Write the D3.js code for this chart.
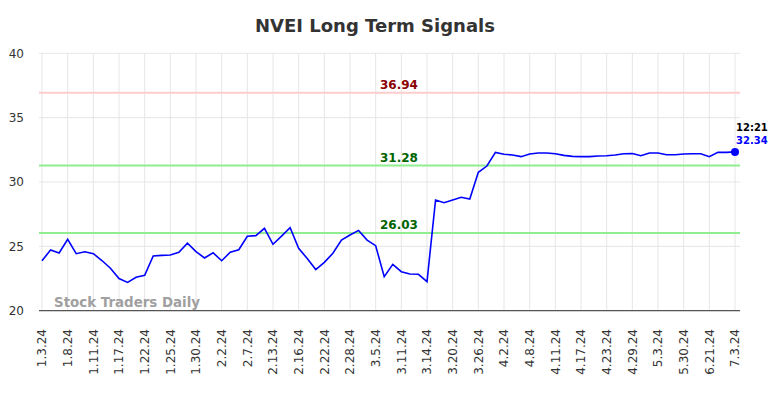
<!DOCTYPE html>
<html>
<head>
<meta charset="utf-8">
<script src="https://cdn.jsdelivr.net/npm/d3@7"></script>
<style>
  body { margin: 0; background: #fff; }
  svg { display: block; font-family: "DejaVu Sans", sans-serif; }
</style>
</head>
<body>
<div id="chart"></div>
<script>
const title = 'NVEI Long Term Signals';

// x tick labels, one every 3 points
const tickLabels = ['1.3.24', '1.8.24', '1.11.24', '1.17.24', '1.22.24', '1.25.24', '1.30.24',
  '2.2.24', '2.7.24', '2.13.24', '2.16.24', '2.22.24', '2.28.24', '3.5.24', '3.11.24',
  '3.14.24', '3.20.24', '3.26.24', '4.2.24', '4.8.24', '4.11.24', '4.17.24', '4.23.24',
  '4.29.24', '5.3.24', '5.30.24', '6.21.24', '7.3.24'];
const tickStep = 3;

const prices = [23.88, 24.72, 24.48, 25.55, 24.43, 24.58, 24.43, 23.9, 23.3, 22.5,
  22.2, 22.6, 22.75, 24.25, 24.3, 24.33, 24.54, 25.24, 24.59, 24.1,
  24.5, 23.88, 24.54, 24.74, 25.78, 25.83, 26.4, 25.16, 25.8, 26.45,
  24.85, 24.05, 23.2, 23.76, 24.46, 25.49, 25.88, 26.24, 25.49, 25.05,
  22.64, 23.6, 23.03, 22.85, 22.83, 22.26, 28.6, 28.39, 28.6, 28.81,
  28.68, 30.75, 31.24, 32.3, 32.15, 32.1, 31.97, 32.18, 32.25, 32.25,
  32.2, 32.07, 31.99, 31.97, 31.97, 32.02, 32.04, 32.1, 32.2, 32.22,
  32.04, 32.25, 32.25, 32.12, 32.12, 32.17, 32.2, 32.2, 31.97, 32.3,
  32.3, 32.34];

const yTicks = [20, 25, 30, 35, 40];
const levels = [
  { value: 36.94, line: '#ffcccc', text: '#8b0000' },
  { value: 31.28, line: '#90ee90', text: '#006400' },
  { value: 26.03, line: '#90ee90', text: '#006400' }
];
const lastTime = '12:21';

const width = 784, height = 398;
const plot = { left: 39, right: 740, top: 53.3, bottom: 310.7 };

const svg = d3.select('#chart').append('svg')
  .attr('width', width)
  .attr('height', height);

const x = d3.scaleLinear().domain([0, prices.length - 1]).range([42, 735]);
const y = d3.scaleLinear().domain([20, 40]).range([plot.bottom, plot.top]);

// grid
const tickIdx = tickLabels.map((d, i) => i * tickStep);
svg.append('g').selectAll('line').data(tickIdx).join('line')
  .attr('x1', d => x(d)).attr('x2', d => x(d))
  .attr('y1', plot.top).attr('y2', plot.bottom)
  .attr('stroke', '#e6e6e6').attr('stroke-width', 1);

svg.append('g').selectAll('line').data(yTicks).join('line')
  .attr('x1', plot.left).attr('x2', plot.right)
  .attr('y1', d => y(d)).attr('y2', d => y(d))
  .attr('stroke', '#e6e6e6').attr('stroke-width', 1);

// y labels
svg.append('g').selectAll('text').data(yTicks).join('text')
  .attr('x', 24).attr('y', d => y(d)).attr('dy', '0.35em')
  .attr('text-anchor', 'end')
  .style('font-size', '12px').attr('fill', '#333')
  .text(d => d);

// x labels
svg.append('g').selectAll('text').data(tickLabels).join('text')
  .attr('transform', (d, i) => `translate(${x(i * tickStep)},329) rotate(-90)`)
  .attr('dy', '0.35em')
  .attr('text-anchor', 'end')
  .style('font-size', '12px').attr('fill', '#333')
  .text(d => d);

// bottom axis line
svg.append('line')
  .attr('x1', plot.left).attr('x2', plot.right)
  .attr('y1', plot.bottom).attr('y2', plot.bottom)
  .attr('stroke', '#555').attr('stroke-width', 1.2);

// watermark
svg.append('text')
  .attr('x', 54).attr('y', 306.7)
  .style('font-size', '13.4px').style('font-weight', 'bold')
  .attr('fill', '#a0a0a0')
  .text('Stock Traders Daily');

// signal levels
levels.forEach(l => {
  svg.append('line')
    .attr('x1', plot.left).attr('x2', plot.right)
    .attr('y1', y(l.value)).attr('y2', y(l.value))
    .attr('stroke', l.line).attr('stroke-width', 2);
  svg.append('text')
    .attr('x', 380).attr('y', y(l.value) - 4)
    .style('font-size', '12px').style('font-weight', 'bold')
    .attr('fill', l.text)
    .text(l.value.toFixed(2));
});

// price line
const line = d3.line().x((d, i) => x(i)).y(d => y(d));
svg.append('path')
  .datum(prices)
  .attr('fill', 'none')
  .attr('stroke', '#0000ff')
  .attr('stroke-width', 1.6)
  .attr('d', line);

// last point
const li = prices.length - 1;
svg.append('circle')
  .attr('cx', x(li)).attr('cy', y(prices[li])).attr('r', 4)
  .attr('fill', '#0000ff');
svg.append('text')
  .attr('x', x(li) + 1).attr('y', y(prices[li]) - 21)
  .style('font-size', '10px').style('font-weight', 'bold')
  .attr('fill', '#000')
  .text(lastTime);
svg.append('text')
  .attr('x', x(li) + 1).attr('y', y(prices[li]) - 8)
  .style('font-size', '10px').style('font-weight', 'bold')
  .attr('fill', '#0000ff')
  .text(prices[li].toFixed(2));

// title
svg.append('text')
  .attr('x', 375).attr('y', 31.7)
  .attr('text-anchor', 'middle')
  .style('font-size', '18px').style('font-weight', 'bold')
  .attr('fill', '#333')
  .text(title);
</script>
</body>
</html>
